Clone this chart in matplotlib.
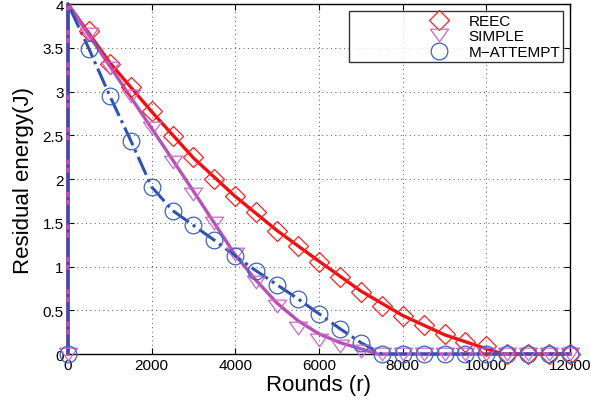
import matplotlib
matplotlib.use('Agg')
from matplotlib import pyplot as plt
from matplotlib.lines import Line2D
from matplotlib.legend_handler import HandlerTuple

plt.rcParams['font.family'] = ['Liberation Sans', 'DejaVu Sans']

# marker data (every 500 rounds)
reec_x = [500, 1000, 1500, 2000, 2500, 3000, 3500, 4000, 4500, 5000, 5500, 6000,
          6500, 7000, 7500, 8000, 8500, 9000, 9500, 10000, 10500, 11000, 11500, 12000]
reec_y = [3.69, 3.31, 3.05, 2.78, 2.49, 2.25, 2.00, 1.81, 1.62, 1.41, 1.24, 1.05,
          0.88, 0.71, 0.55, 0.44, 0.33, 0.23, 0.14, 0.09, 0.0, 0.0, 0.0, 0.0]

simple_x = [0, 500, 1000, 1500, 2000, 2500, 3000, 3500, 4000, 4500, 5000, 5500, 6000,
            6500, 7000, 7500, 8000, 8500, 9000, 9500, 10000, 10500, 11000, 11500, 12000]
simple_y = [0.0, 3.66, 3.27, 2.95, 2.58, 2.19, 1.83, 1.50, 1.14, 0.82, 0.55, 0.30, 0.16,
            0.09, 0.04, 0.0, 0.0, 0.0, 0.0, 0.0, 0.0, 0.0, 0.0, 0.0, 0.0]

matt_x = simple_x
matt_y = [0.0, 3.49, 2.95, 2.44, 1.91, 1.64, 1.47, 1.30, 1.12, 0.95, 0.79, 0.63, 0.46,
          0.29, 0.13, 0.0, 0.0, 0.0, 0.0, 0.0, 0.0, 0.0, 0.0, 0.0, 0.0]

# curve data (start with the jump at round 0)
reec_lx = [0, 0, 1000, 2000, 3000, 4000, 5000, 6000, 7000, 8000, 9000, 10000, 10400, 12000]
reec_ly = [0, 4.0, 3.33, 2.77, 2.24, 1.80, 1.41, 1.06, 0.72, 0.44, 0.22, 0.06, 0.0, 0.0]

simple_lx = [0, 0, 1000, 2000, 3000, 4000, 4500, 5000, 5500, 6000, 6500, 7000, 7400, 12000]
simple_ly = [0, 4.0, 3.29, 2.58, 1.86, 1.13, 0.84, 0.58, 0.38, 0.23, 0.13, 0.06, 0.0, 0.0]

matt_lx = [0, 0] + matt_x[1:]
matt_ly = [0, 4.0] + matt_y[1:]

# wide, flat down-triangle like the MATLAB one
tri = [(-1, 0.7), (1, 0.7), (0, -0.7), (-1, 0.7)]

fig = plt.figure(figsize=(5.91, 4.06), dpi=100)
ax = fig.add_axes([0.115, 0.1256, 0.8495, 0.862])

ax.plot(reec_lx, reec_ly, '-', color='#ee1111', lw=2.4, clip_on=False, zorder=3)
ax.plot(simple_lx, simple_ly, '-', color='#b552b5', lw=2.4, clip_on=False, zorder=3)
ax.plot(matt_lx, matt_ly, '-.', color='#2f52b0', lw=2.2, clip_on=False, zorder=3)

m1, = ax.plot(reec_x, reec_y, 'D', ms=10, mfc='none', mec='#ff2020', mew=0.9,
              clip_on=False, zorder=4)
m2, = ax.plot(simple_x, simple_y, marker=tri, ls='none', ms=13, mfc='none',
              mec='#cc66cc', mew=0.9, clip_on=False, zorder=4)
m3, = ax.plot(matt_x, matt_y, 'o', ms=12, mfc='none', mec='#3a62c4', mew=0.9,
              clip_on=False, zorder=4)

ax.set_xlim(0, 12000)
ax.set_ylim(0, 4)
ax.set_xticks(range(0, 12001, 2000))
ax.set_yticks([0, 0.5, 1, 1.5, 2, 2.5, 3, 3.5, 4])
ax.set_yticklabels(['0', '0.5', '1', '1.5', '2', '2.5', '3', '3.5', '4'])
ax.tick_params(direction='in', top=True, right=True, labelsize=11, length=4, pad=3)
ax.grid(True, linestyle=(0, (1, 3.5)), color='#555555', lw=0.7)
for s in ax.spines.values():
    s.set_linewidth(1.0)

ax.set_xlabel('Rounds (r)', fontsize=16, labelpad=1)
ax.set_ylabel('Residual energy(J)', fontsize=16, labelpad=6)

# blank slot before each marker, like the MATLAB legend
blank = Line2D([], [], ls='none')
leg = ax.legend([(blank, m1), (blank, m2), (blank, m3)],
                ['REEC', 'SIMPLE', 'M\u2212ATTEMPT'],
                handler_map={tuple: HandlerTuple(ndivide=2, pad=0)},
                loc='upper right', fontsize=11, frameon=True, fancybox=False,
                edgecolor='black', borderpad=0.2, labelspacing=0.1,
                handlelength=7.6, handletextpad=0.0, borderaxespad=0.45)
leg.get_frame().set_linewidth(1.0)
leg.set_zorder(5)

fig.savefig('out.png', dpi=100)
